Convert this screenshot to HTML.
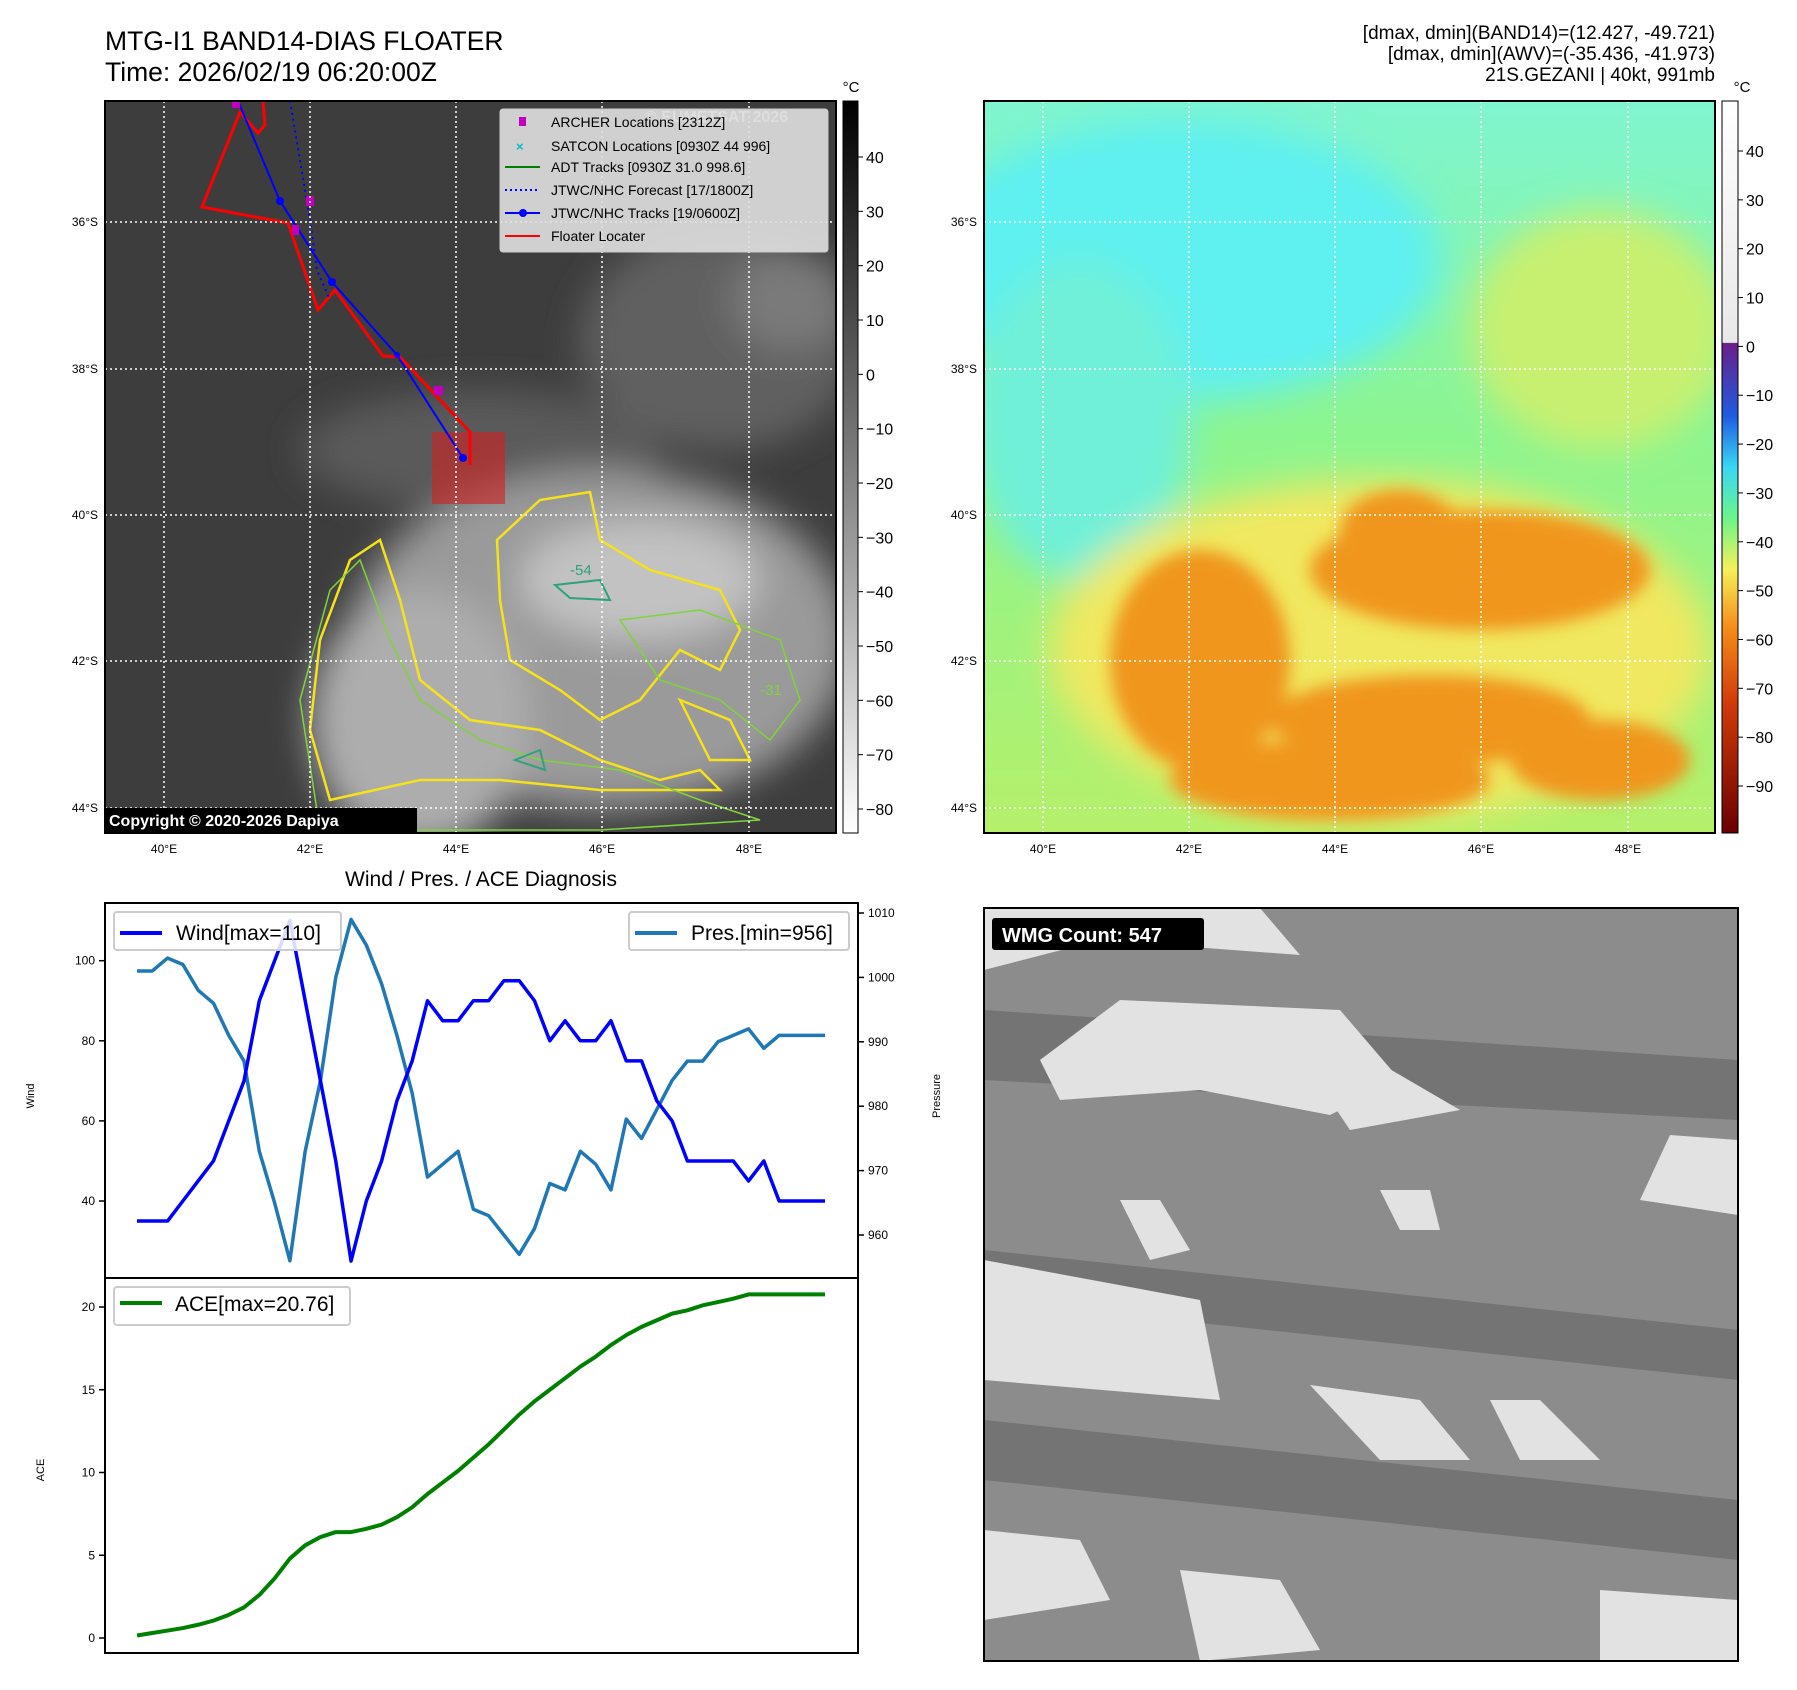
<!DOCTYPE html>
<html><head><meta charset="utf-8">
<style>
html,body{margin:0;padding:0;background:#fff;}
svg{display:block;font-family:"Liberation Sans","DejaVu Sans",sans-serif;}
</style></head>
<body>
<svg id="page" width="1797" height="1690" viewBox="0 0 1797 1690" xmlns="http://www.w3.org/2000/svg">
<defs>
<linearGradient id="cb1" x1="0" y1="0" x2="0" y2="1">
<stop offset="0" stop-color="#000"/><stop offset="1" stop-color="#fff"/></linearGradient>
<linearGradient id="cb2" x1="0" y1="0" x2="0" y2="1">
<stop offset="0" stop-color="#fff"/><stop offset="0.33" stop-color="#e8e8e8"/>
<stop offset="0.331" stop-color="#6a1f8a"/><stop offset="0.43" stop-color="#1f5be0"/>
<stop offset="0.5" stop-color="#3ad6f5"/><stop offset="0.57" stop-color="#6bf58a"/>
<stop offset="0.64" stop-color="#f5f05a"/><stop offset="0.72" stop-color="#f58c1a"/>
<stop offset="0.82" stop-color="#d23c0a"/><stop offset="1" stop-color="#6a0000"/></linearGradient>
<linearGradient id="mapR" x1="0" y1="0" x2="0" y2="1">
<stop offset="0" stop-color="#7ff5d0"/><stop offset="0.45" stop-color="#8cf590"/><stop offset="1" stop-color="#b5f06a"/></linearGradient>
<filter id="blur" x="-20%" y="-20%" width="140%" height="140%"><feGaussianBlur stdDeviation="18"/></filter>
<filter id="blur2" x="-20%" y="-20%" width="140%" height="140%"><feGaussianBlur stdDeviation="8"/></filter>
<clipPath id="clipL"><rect x="105" y="101" width="731" height="732"/></clipPath>
<clipPath id="clipR"><rect x="984" y="101" width="731" height="732"/></clipPath>
<clipPath id="clipW"><rect x="984" y="908" width="754" height="753"/></clipPath>
</defs>

<!-- Titles -->
<text x="105" y="50" font-size="26.5">MTG-I1 BAND14-DIAS FLOATER</text>
<text x="105" y="81" font-size="26.5">Time: 2026/02/19 06:20:00Z</text>
<g font-size="19" text-anchor="end">
<text x="1715" y="39">[dmax, dmin](BAND14)=(12.427, -49.721)</text>
<text x="1715" y="60">[dmax, dmin](AWV)=(-35.436, -41.973)</text>
<text x="1715" y="81">21S.GEZANI | 40kt, 991mb</text>
</g>

<!-- Top-left IR map -->
<g clip-path="url(#clipL)">
<rect x="105" y="101" width="731" height="732" fill="#3d3d3d"/>
<g filter="url(#blur)">
<ellipse cx="720" cy="340" rx="140" ry="110" fill="#606060"/>
<ellipse cx="480" cy="450" rx="180" ry="60" fill="#5a5a5a"/>
<ellipse cx="600" cy="640" rx="250" ry="170" fill="#9a9a9a"/>
<ellipse cx="420" cy="720" rx="110" ry="130" fill="#adadad"/>
<ellipse cx="640" cy="580" rx="120" ry="60" fill="#c2c2c2"/>
<ellipse cx="790" cy="300" rx="60" ry="50" fill="#7a7a7a"/>
</g>
<g fill="none" stroke="#f5e21a" stroke-width="2.5">
<path d="M497,540 L540,500 L590,492 L600,540 L650,570 L720,590 L740,630 L720,670 L680,650 L640,700 L600,720 L560,690 L510,660 L500,600 Z"/>
<path d="M350,560 L380,540 L400,600 L420,680 L470,720 L540,730 L600,760 L660,780 L700,770 L720,790 L600,790 L500,780 L420,780 L330,800 L310,730 L320,640 Z"/>
<path d="M680,700 L730,720 L750,760 L710,760 Z"/>
</g>
<g fill="none" stroke="#7fd43a" stroke-width="1.5">
<path d="M300,700 L330,590 L360,560 L390,640 L420,700 L480,740 L540,760 L620,770 L700,800 L760,820 L600,830 L450,830 L320,830 Z"/>
<path d="M620,620 L700,610 L780,640 L800,700 L770,740 L720,700 L660,680 Z"/>
</g>
<g fill="none" stroke="#2ea37a" stroke-width="2"><path d="M555,585 L600,580 L610,600 L570,598 Z"/><path d="M515,760 L540,750 L545,770 Z"/></g>
<rect x="432" y="432" width="73" height="72" fill="#d02020" fill-opacity="0.6"/>
<polyline points="263,101 265,125 258,133 240,112 202,207 288,223 318,310 335,290 383,356 400,357 470,432 470,465" fill="none" stroke="#ff0000" stroke-width="3"/>
<polyline points="290,101 310,220 317,270 330,300" fill="none" stroke="#0000ff" stroke-width="2" stroke-dasharray="2,4"/>
<polyline points="238,101 280,201 332,282 397,355 463,458" fill="none" stroke="#0000ff" stroke-width="2"/>
<g fill="#0000ff"><circle cx="280" cy="201" r="4"/><circle cx="332" cy="282" r="4"/><circle cx="397" cy="355" r="3"/><circle cx="463" cy="458" r="4"/></g>
<g fill="#c000c0"><rect x="232" y="101" width="8" height="7"/><rect x="306" y="196" width="8" height="10"/><rect x="292" y="225" width="7" height="10"/><rect x="434" y="386" width="9" height="9"/></g>
<text x="645" y="122" font-size="16" font-weight="bold" fill="#c8c8c8">© EUMETSAT 2026</text>
</g>
<g stroke="#fff" stroke-width="1.5" stroke-dasharray="2,3" fill="none">
<path d="M164,101V833M310,101V833M456,101V833M602,101V833M749,101V833"/>
<path d="M105,222H836M105,369H836M105,515H836M105,661H836M105,808H836"/>
</g>
<rect x="105" y="101" width="731" height="732" fill="none" stroke="#000" stroke-width="2"/>
<g>
<rect x="500" y="109" width="328" height="143" fill="#e0e0e0" fill-opacity="0.9" stroke="#ccc" rx="3"/>
<g font-size="14">
<rect x="519" y="117" width="7" height="9" fill="#c000c0"/><text x="551" y="127">ARCHER Locations [2312Z]</text>
<text x="516" y="151" fill="#00bfbf" font-weight="bold" font-size="13">×</text><text x="551" y="151">SATCON Locations [0930Z 44 996]</text>
<line x1="505" y1="167" x2="540" y2="167" stroke="#008000" stroke-width="2"/><text x="551" y="172">ADT Tracks [0930Z 31.0 998.6]</text>
<line x1="505" y1="190" x2="540" y2="190" stroke="#0000ff" stroke-width="2" stroke-dasharray="2,3"/><text x="551" y="195">JTWC/NHC Forecast [17/1800Z]</text>
<line x1="505" y1="213" x2="540" y2="213" stroke="#0000ff" stroke-width="2"/><circle cx="523" cy="213" r="4" fill="#0000ff"/><text x="551" y="218">JTWC/NHC Tracks [19/0600Z]</text>
<line x1="505" y1="236" x2="540" y2="236" stroke="#ff0000" stroke-width="2"/><text x="551" y="241">Floater Locater</text>
</g></g>
<g>
<rect x="105" y="808" width="312" height="24" fill="#000"/>
<text x="109" y="826" font-size="16" font-weight="bold" fill="#fff">Copyright © 2020-2026 Dapiya</text></g>
<text x="570" y="575" font-size="15" fill="#2ea37a">-54</text>
<text x="760" y="695" font-size="15" fill="#7fd43a">-31</text>

<!-- Top-right AWV map -->
<g clip-path="url(#clipR)">
<rect x="984" y="101" width="731" height="732" fill="url(#mapR)"/>
<g filter="url(#blur)">
<ellipse cx="1180" cy="260" rx="260" ry="140" fill="#5ff0f0"/>
<ellipse cx="1080" cy="420" rx="110" ry="160" fill="#70f0d8"/>
<ellipse cx="1600" cy="330" rx="130" ry="120" fill="#c8f070"/>
<ellipse cx="1380" cy="650" rx="330" ry="170" fill="#f0e860"/>
</g>
<g filter="url(#blur2)" fill="#f0961e">
<ellipse cx="1480" cy="570" rx="170" ry="60"/>
<ellipse cx="1400" cy="530" rx="60" ry="40"/>
<ellipse cx="1200" cy="660" rx="90" ry="110"/>
<ellipse cx="1430" cy="720" rx="160" ry="45"/>
<ellipse cx="1330" cy="780" rx="160" ry="40"/>
<ellipse cx="1600" cy="760" rx="90" ry="40"/>
</g>
</g>
<g stroke="#fff" stroke-width="1.5" stroke-dasharray="2,3" fill="none">
<path d="M1043,101V833M1189,101V833M1335,101V833M1481,101V833M1628,101V833"/>
<path d="M984,222H1715M984,369H1715M984,515H1715M984,661H1715M984,808H1715"/>
</g>
<rect x="984" y="101" width="731" height="732" fill="none" stroke="#000" stroke-width="2"/>

<!-- Map axis labels -->
<g font-size="12" fill="#000">
<g text-anchor="middle">
<text x="164" y="853">40°E</text><text x="310" y="853">42°E</text><text x="456" y="853">44°E</text><text x="602" y="853">46°E</text><text x="749" y="853">48°E</text>
<text x="1043" y="853">40°E</text><text x="1189" y="853">42°E</text><text x="1335" y="853">44°E</text><text x="1481" y="853">46°E</text><text x="1628" y="853">48°E</text>
</g>
<g text-anchor="end">
<text x="98" y="226">36°S</text><text x="98" y="373">38°S</text><text x="98" y="519">40°S</text><text x="98" y="665">42°S</text><text x="98" y="812">44°S</text>
<text x="977" y="226">36°S</text><text x="977" y="373">38°S</text><text x="977" y="519">40°S</text><text x="977" y="665">42°S</text><text x="977" y="812">44°S</text>
</g></g>

<!-- Colorbars -->
<g>
<rect x="843" y="101" width="15" height="732" fill="url(#cb1)" stroke="#000"/>
<text x="851" y="92" font-size="15" text-anchor="middle">°C</text>
<g id="cb1ticks" font-size="16"></g></g>
<g>
<rect x="1722" y="101" width="16" height="732" fill="url(#cb2)" stroke="#000"/>
<text x="1742" y="92" font-size="15" text-anchor="middle">°C</text>
<g id="cb2ticks" font-size="16"></g></g>

<!-- Wind/Pres chart -->
<text x="481" y="886" font-size="21" text-anchor="middle">Wind / Pres. / ACE Diagnosis</text>
<g id="windChart"></g>
<g id="aceChart"></g>

<!-- WMG panel -->
<g clip-path="url(#clipW)">
<rect x="984" y="908" width="754" height="753" fill="#8c8c8c"/>
<g fill="#6e6e6e" opacity="0.8">
<polygon points="984,1010 1738,1060 1738,1120 984,1080"/>
<polygon points="984,1250 1738,1330 1738,1380 984,1300"/>
<polygon points="984,1420 1738,1500 1738,1560 984,1480"/>
</g>
<g fill="#e2e2e2">
<polygon points="984,908 1260,908 1300,955 1100,940 984,970"/>
<polygon points="1120,1000 1340,1010 1400,1080 1330,1115 1200,1090 1060,1100 1040,1060"/>
<polygon points="1290,1040 1340,1040 1460,1110 1350,1130"/>
<polygon points="1380,1190 1430,1190 1440,1230 1400,1230"/>
<polygon points="1670,1135 1738,1140 1738,1215 1640,1200"/>
<polygon points="1120,1200 1160,1200 1190,1250 1150,1260"/>
<polygon points="984,1260 1200,1300 1220,1400 984,1380"/>
<polygon points="1310,1385 1420,1400 1470,1460 1380,1460"/>
<polygon points="1490,1400 1540,1400 1600,1460 1520,1460"/>
<polygon points="984,1530 1080,1540 1110,1600 984,1620"/>
<polygon points="1180,1570 1280,1580 1320,1650 1200,1661"/>
<polygon points="1600,1590 1738,1600 1738,1661 1600,1661"/>
</g>
</g>
<rect x="984" y="908" width="754" height="753" fill="none" stroke="#000" stroke-width="2"/>
<g>
<rect x="992" y="918" width="212" height="32" rx="3" fill="#000"/>
<text x="1002" y="942" font-size="20" font-weight="bold" fill="#fff">WMG Count: 547</text></g>

<script>
// Chart data
const wind = [35,35,35,40,45,50,60,70,90,100,110,90,70,50,25,40,50,65,75,90,85,85,90,90,95,95,90,80,85,80,80,85,75,75,65,60,50,50,50,50,45,50,40,40,40,40];
const pressure = [1001,1001,1003,1002,998,996,991,987,973,965,956,973,984,1000,1009,1005,999,991,982,969,971,973,964,963,960,957,961,968,967,973,971,967,978,975,979.5,984,987,987,990,991,992,989,991,991,991,991];
const ace = [0.15,0.3,0.45,0.6,0.8,1.05,1.4,1.85,2.6,3.6,4.8,5.6,6.1,6.4,6.4,6.6,6.85,7.3,7.9,8.7,9.4,10.1,10.9,11.7,12.6,13.5,14.3,15.0,15.7,16.4,17.0,17.7,18.3,18.8,19.2,19.6,19.8,20.1,20.3,20.5,20.76,20.76,20.76,20.76,20.76,20.76];
const windTicks = [40,60,80,100];
const presTicks = [960,970,980,990,1000,1010];
const aceTicks = [0,5,10,15,20];
const cb1Ticks = [40,30,20,10,0,-10,-20,-30,-40,-50,-60,-70,-80];
const cb2Ticks = [40,30,20,10,0,-10,-20,-30,-40,-50,-60,-70,-80,-90];

const NS='http://www.w3.org/2000/svg';
function mk(parent,tag,attrs,text){const e=document.createElementNS(NS,tag);for(const k in attrs)e.setAttribute(k,attrs[k]);if(text!==undefined)e.textContent=text;parent.appendChild(e);return e;}
const X0=105,X1=858;
const xS=i=>137+i*(825-137)/(wind.length-1);
const yWind=v=>960.7+(100-v)*(1201-960.7)/60;
const yPres=v=>913+(1010-v)*(1235-913)/50;
const yAce=v=>1638-v*(1638-1307)/20;

const wc=document.getElementById('windChart');
mk(wc,'rect',{x:X0,y:903,width:X1-X0,height:375,fill:'#fff',stroke:'#000','stroke-width':2});
windTicks.forEach(t=>{const y=yWind(t);
 const l=mk(wc,'line',{x1:X0-6,x2:X0,y1:y,y2:y,stroke:'#000','stroke-width':1.5});
 
 const tx=mk(wc,'text',{x:X0-10,y:y+4,'font-size':12,'text-anchor':'end'},t);
 });
presTicks.forEach(t=>{const y=yPres(t);
 const l=mk(wc,'line',{x1:X1,x2:X1+6,y1:y,y2:y,stroke:'#000','stroke-width':1.5});
 
 const tx=mk(wc,'text',{x:X1+10,y:y+4,'font-size':12},t);
 });
let yt=mk(wc,'text',{x:34,y:1096,'font-size':11,'text-anchor':'middle',transform:'rotate(-90 34 1096)'},'Wind');

yt=mk(wc,'text',{x:940,y:1096,'font-size':11,'text-anchor':'middle',transform:'rotate(-90 940 1096)'},'Pressure');

let pl=mk(wc,'polyline',{points:pressure.map((v,i)=>xS(i)+','+yPres(v)).join(' '),fill:'none',stroke:'#1f77b4','stroke-width':3.5,'stroke-linejoin':'round'});

pl=mk(wc,'polyline',{points:wind.map((v,i)=>xS(i)+','+yWind(v)).join(' '),fill:'none',stroke:'#0000ff','stroke-width':3.5,'stroke-linejoin':'round'});

let lg=mk(wc,'g',{});

mk(lg,'rect',{x:114,y:912,width:227,height:38,rx:3,fill:'#fff','fill-opacity':0.85,stroke:'#ccc','stroke-width':2});
mk(lg,'line',{x1:120,x2:162,y1:933,y2:933,stroke:'#0000ff','stroke-width':4});
mk(lg,'text',{x:176,y:940,'font-size':21},'Wind[max=110]');
lg=mk(wc,'g',{});

mk(lg,'rect',{x:629,y:912,width:220,height:38,rx:3,fill:'#fff','fill-opacity':0.85,stroke:'#ccc','stroke-width':2});
mk(lg,'line',{x1:635,x2:677,y1:933,y2:933,stroke:'#1f77b4','stroke-width':4});
mk(lg,'text',{x:691,y:940,'font-size':21},'Pres.[min=956]');

const ac=document.getElementById('aceChart');
mk(ac,'rect',{x:X0,y:1278,width:X1-X0,height:375,fill:'#fff',stroke:'#000','stroke-width':2});
aceTicks.forEach(t=>{const y=yAce(t);
 const l=mk(ac,'line',{x1:X0-6,x2:X0,y1:y,y2:y,stroke:'#000','stroke-width':1.5});
 
 const tx=mk(ac,'text',{x:X0-10,y:y+4,'font-size':12,'text-anchor':'end'},t);
 });
yt=mk(ac,'text',{x:44,y:1470,'font-size':11,'text-anchor':'middle',transform:'rotate(-90 44 1470)'},'ACE');

pl=mk(ac,'polyline',{points:ace.map((v,i)=>xS(i)+','+yAce(v)).join(' '),fill:'none',stroke:'#008000','stroke-width':4,'stroke-linejoin':'round'});

lg=mk(ac,'g',{});

mk(lg,'rect',{x:114,y:1287,width:236,height:38,rx:3,fill:'#fff','fill-opacity':0.85,stroke:'#ccc','stroke-width':2});
mk(lg,'line',{x1:120,x2:162,y1:1303,y2:1303,stroke:'#008000','stroke-width':4});
mk(lg,'text',{x:175,y:1311,'font-size':21},'ACE[max=20.76]');

const c1=document.getElementById('cb1ticks');
cb1Ticks.forEach(t=>{const y=157+(40-t)*(809-157)/120;
 mk(c1,'line',{x1:858,x2:863,y1:y,y2:y,stroke:'#000'});
 const tx=mk(c1,'text',{x:866,y:y+6},t<0?'\u2212'+(-t):t);
 });
const c2=document.getElementById('cb2ticks');
cb2Ticks.forEach(t=>{const y=151+(40-t)*(786-151)/130;
 mk(c2,'line',{x1:1738,x2:1743,y1:y,y2:y,stroke:'#000'});
 const tx=mk(c2,'text',{x:1746,y:y+6},t<0?'\u2212'+(-t):t);
 });
</script>
</svg>
</body></html>
